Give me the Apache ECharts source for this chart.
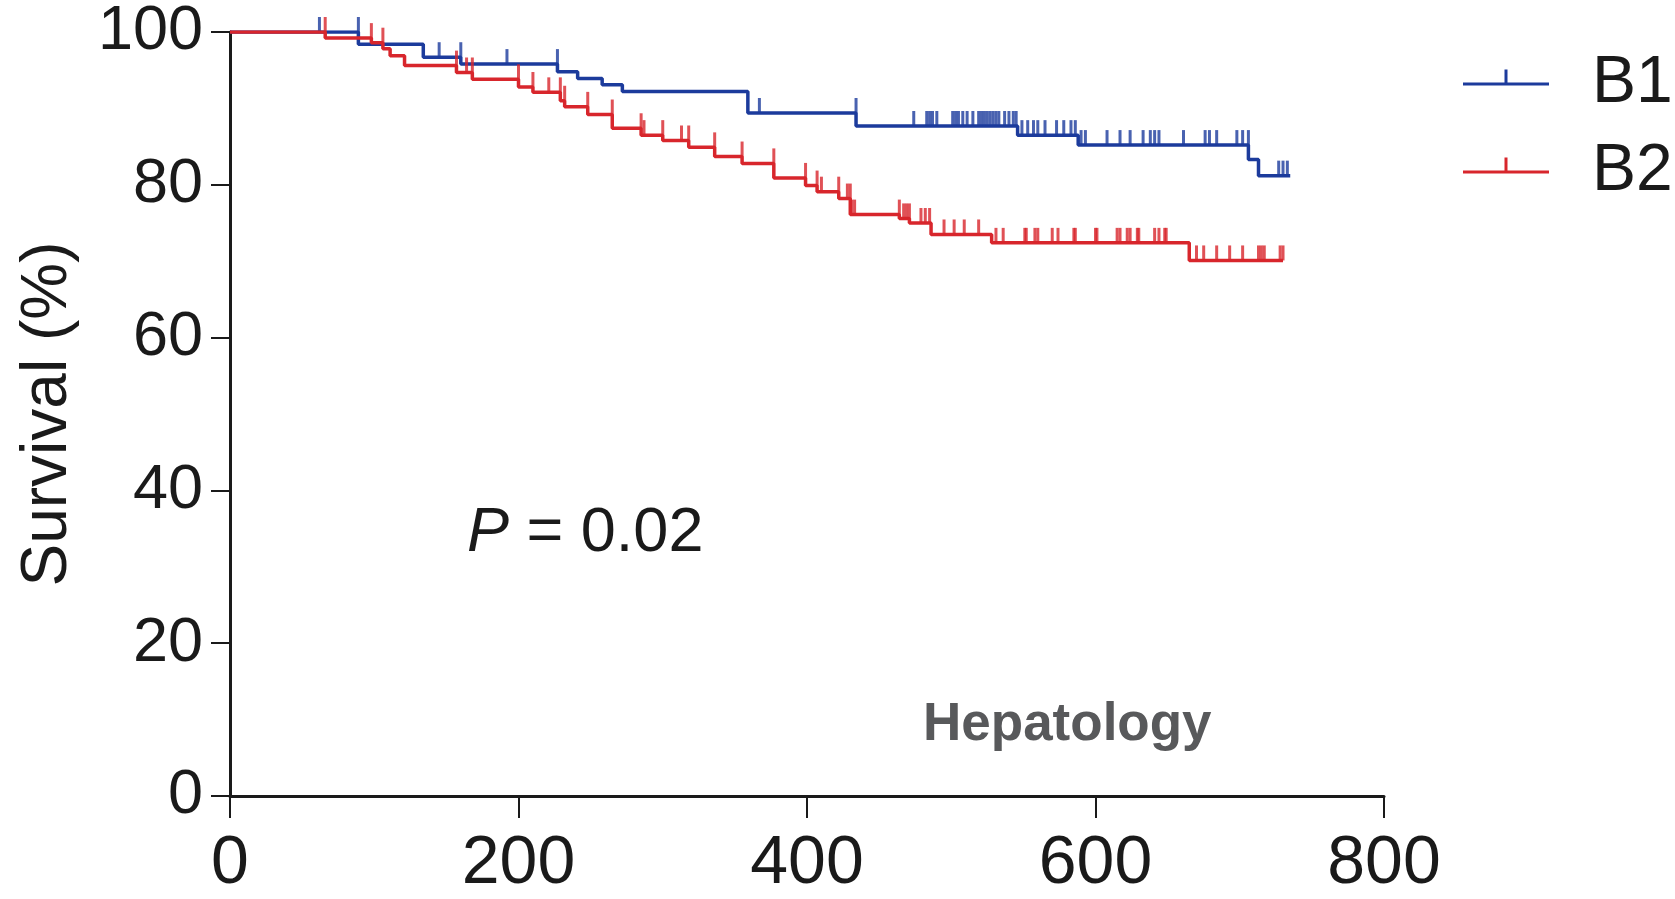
<!DOCTYPE html>
<html>
<head>
<meta charset="utf-8">
<script src="https://cdn.jsdelivr.net/npm/echarts@6/dist/echarts.min.js"></script>
<style>
  html, body { margin: 0; padding: 0; background: #ffffff; }
  #chart { width: 1675px; height: 899px; }
</style>
</head>
<body>
<div id="chart"></div>
<script>
// ---- Data ----
const seriesNames = ['B1', 'B2'];
const xTicks = [0, 200, 400, 600, 800];
const yTicks = [0, 20, 40, 60, 80, 100];

// Kaplan-Meier steps: time (days) where a new survival level starts, and the level (%)
const timesB1 = [0, 89, 134, 160, 227, 241, 258, 272, 359, 434, 546, 588, 706, 713, 735];
const survB1  = [100, 98.4, 96.7, 95.8, 94.8, 93.9, 93.1, 92.2, 89.4, 87.7, 86.5, 85.2, 83.3, 81.2, 81.2];
const censorB1 = [62, 89, 145, 160, 192, 227, 367, 434, 474, 483, 485, 487, 490, 501, 503, 505, 508, 511,
  515, 519, 521, 523, 525, 527, 529, 531, 533, 537, 540, 543, 545, 549, 553, 557, 560, 565, 573, 578,
  583, 586, 590, 593, 608, 617, 624, 633, 638, 641, 644, 661, 676, 679, 684, 698, 702, 706, 727, 730, 733];

const timesB2 = [0, 66, 98, 106, 111, 121, 157, 168, 200, 210, 229, 232, 248, 265, 285, 300, 318, 336,
  355, 377, 399, 407, 422, 430, 464, 471, 486, 528, 665, 730];
const survB2  = [100, 99.2, 98.6, 97.8, 96.9, 95.6, 94.7, 93.8, 92.8, 92.1, 91.0, 90.2, 89.2, 87.4, 86.5,
  85.8, 84.9, 83.7, 82.8, 80.9, 79.9, 79.1, 78.2, 76.1, 75.6, 75.0, 73.5, 72.4, 70.1, 70.1];
const censorB2 = [66, 98, 106, 157, 164, 168, 200, 210, 221, 229, 232, 248, 265, 285, 287, 300, 313, 318,
  336, 355, 377, 399, 407, 410, 422, 428, 430, 431, 433, 464, 467, 469, 471, 479, 482, 485, 495, 502,
  509, 519, 531, 536, 551, 552, 558, 560, 570, 574, 585, 586, 600, 601, 615, 617, 622, 624, 629, 630,
  641, 644, 648, 649, 670, 675, 684, 693, 702, 713, 715, 717, 728, 730];

const pText = '= 0.02';
const sourceText = 'Hepatology';

// ---- Helpers ----
function pairs(ts, vs) { return ts.map((t, i) => [t, vs[i]]); }
// level of the step curve just before time t (censor ticks sit on the curve)
function levelAt(ts, vs, t) {
  let v = vs[0];
  for (let i = 0; i < ts.length; i++) { if (ts[i] < t) v = vs[i]; }
  return v;
}
function censorPoints(ts, vs, cs) { return cs.map(c => [c, levelAt(ts, vs, c)]); }

const BLUE = '#1c3b9c';
const RED = '#d8262c';
const FONT = "'Liberation Sans', Arial, Helvetica, sans-serif";
const legendIcon = 'path://M0,13 H86 V16 H0 Z M41.5,0 H44.5 V14.5 H41.5 Z M0,29 L1,29 Z';

const chart = echarts.init(document.getElementById('chart'), null, { renderer: 'canvas' });

const legendBase = {
  orient: 'vertical', left: 1458,
  icon: legendIcon, itemWidth: 86, itemHeight: 29,
  itemStyle: { borderWidth: 0 },
  textStyle: { fontSize: 66, fontFamily: FONT, color: '#1a1a1a', padding: [0, 0, 0, 38] }
};

const option = {
  backgroundColor: '#ffffff',
  animation: false,
  grid: { left: 230, right: 291, top: 32, bottom: 103, containLabel: false },
  xAxis: {
    type: 'value', min: xTicks[0], max: xTicks[xTicks.length - 1], interval: 200,
    axisLine: { show: true, lineStyle: { color: '#1a1a1a', width: 3 } },
    axisTick: { show: true, length: 22, lineStyle: { color: '#1a1a1a', width: 2 } },
    axisLabel: { color: '#1a1a1a', fontSize: 68, fontFamily: FONT, margin: 34 },
    splitLine: { show: false }
  },
  yAxis: {
    type: 'value', min: yTicks[0], max: yTicks[yTicks.length - 1], interval: 20,
    name: 'Survival (%)', nameLocation: 'middle', nameGap: 150,
    nameTextStyle: { color: '#1a1a1a', fontSize: 64, fontFamily: FONT },
    axisLine: { show: true, lineStyle: { color: '#1a1a1a', width: 3 } },
    axisTick: { show: true, length: 19, lineStyle: { color: '#1a1a1a', width: 2 } },
    axisLabel: { color: '#1a1a1a', fontSize: 63, fontFamily: FONT, margin: 27 },
    splitLine: { show: false }
  },
  legend: [
    Object.assign({}, legendBase, { data: [seriesNames[0]], top: 46 }),
    Object.assign({}, legendBase, { data: [seriesNames[1]], top: 134 })
  ],
  series: [
    {
      name: seriesNames[0], type: 'line', step: 'end', symbol: 'none',
      data: pairs(timesB1, survB1), color: BLUE,
      lineStyle: { color: BLUE, width: 3.5 }, z: 3
    },
    {
      name: seriesNames[0] + ' censored', type: 'scatter', data: censorPoints(timesB1, survB1, censorB1),
      symbol: 'rect', symbolSize: [3, 15], symbolOffset: [0, -7.5], clip: false,
      itemStyle: { color: BLUE }, z: 3
    },
    {
      name: seriesNames[1], type: 'line', step: 'end', symbol: 'none',
      data: pairs(timesB2, survB2), color: RED,
      lineStyle: { color: RED, width: 3.5 }, z: 4
    },
    {
      name: seriesNames[1] + ' censored', type: 'scatter', data: censorPoints(timesB2, survB2, censorB2),
      symbol: 'rect', symbolSize: [3, 15], symbolOffset: [0, -7.5], clip: false,
      itemStyle: { color: RED }, z: 4
    }
  ],
  graphic: [
    {
      type: 'text', left: 467, top: 502,
      style: {
        text: '{i|P} ' + pText,
        font: '63px ' + FONT, fill: '#1a1a1a',
        rich: { i: { fontStyle: 'italic', fontSize: 63, fontFamily: FONT, fill: '#1a1a1a' } }
      }
    },
    {
      type: 'text', left: 923, top: 699,
      style: { text: sourceText, font: 'bold 53px ' + FONT, fill: '#58595b' }
    }
  ]
};
chart.setOption(option);
</script>
</body>
</html>
